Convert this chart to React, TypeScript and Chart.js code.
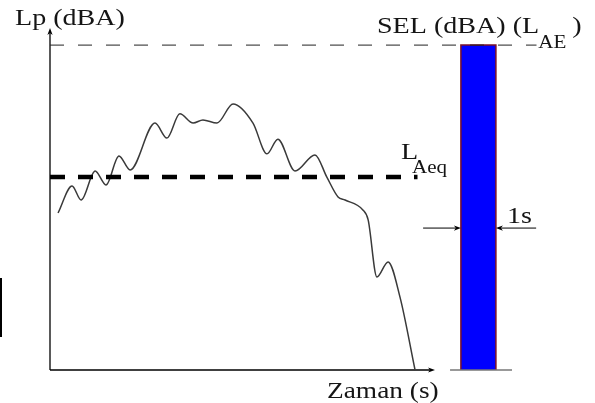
import React, { useEffect, useRef } from "react";
import { Chart, registerables } from "chart.js";

Chart.register(...registerables);

// Sound level time history (time in s, level in dBA)
const timeS = [0.23, 0.63, 0.89, 1.29, 1.6, 1.97, 2.29, 3.0, 3.34, 3.71, 4.09, 4.37, 4.77, 5.23, 5.8, 6.2, 6.51, 7.0, 7.57, 7.91, 8.23, 8.43, 8.94, 9.09, 9.34, 9.66, 10.0, 10.43];
const levelDBA = [45.9, 53.8, 49.7, 58.2, 54.1, 62.6, 58.5, 72.2, 67.8, 74.9, 72.2, 73.1, 72.2, 77.8, 72.2, 63.2, 67.5, 58.2, 62.9, 56.4, 50.6, 49.7, 46.8, 43.9, 27.2, 31.6, 21.3, 0];

const LAEQ = 56.4;
const LAEQ_END = 10.5;
const SEL = 95;
const SEL_LINE_END = 13.9;
const BAR_START = 11.74;
const BAR_DURATION = 1;
const X_AXIS_END = 11;
const Y_AXIS_TOP = 100;
const BASELINE_START = 11.43;
const BASELINE_END = 13.2;
const ARROW_LEVEL = 41.5;
const ARROW_LEFT_FROM = 10.66;
const ARROW_RIGHT_FROM = 13.89;

const SERIF = '"Liberation Serif", "DejaVu Serif", serif';

function arrowHead(ctx: CanvasRenderingContext2D, tx: number, ty: number, dir: string) {
  const L = 7, W = 2.6;
  ctx.beginPath();
  ctx.moveTo(tx, ty);
  if (dir === "right") { ctx.lineTo(tx - L, ty - W); ctx.lineTo(tx - L + 2, ty); ctx.lineTo(tx - L, ty + W); }
  if (dir === "left") { ctx.lineTo(tx + L, ty - W); ctx.lineTo(tx + L - 2, ty); ctx.lineTo(tx + L, ty + W); }
  if (dir === "up") { ctx.lineTo(tx - W, ty + L); ctx.lineTo(tx, ty + L - 2); ctx.lineTo(tx + W, ty + L); }
  ctx.closePath();
  ctx.fill();
}

function text(ctx: CanvasRenderingContext2D, s: string, x: number, y: number, size: number, sx = 1.17) {
  ctx.save();
  ctx.font = `${size}px ${SERIF}`;
  const w = ctx.measureText(s).width * sx;
  ctx.translate(x, y);
  ctx.scale(sx, 1);
  ctx.fillText(s, 0, 0);
  ctx.restore();
  return w;
}

const annotPlugin = {
  id: "annot",
  afterDatasetsDraw(chart: any) {
    const { ctx, scales } = chart;
    const px = (v: number) => scales.x.getPixelForValue(v);
    const py = (v: number) => scales.y.getPixelForValue(v);
    ctx.save();
    ctx.fillStyle = "#000";
    arrowHead(ctx, px(X_AXIS_END), py(0), "right");
    arrowHead(ctx, px(0), py(Y_AXIS_TOP), "up");
    arrowHead(ctx, px(BAR_START), py(ARROW_LEVEL), "right");
    arrowHead(ctx, px(BAR_START + BAR_DURATION), py(ARROW_LEVEL), "left");

    // stray mark at the left edge
    ctx.fillRect(0, 278, 2, 59);

    ctx.fillStyle = "#151515";
    ctx.textBaseline = "alphabetic";
    text(ctx, "Lp (dBA)", 15, 25, 24);
    const w1 = text(ctx, "SEL (dBA) (L", 377, 33, 24);
    const w2 = text(ctx, "AE", 377 + w1 - 1, 48, 18);
    text(ctx, ")", 377 + w1 + w2 + 5, 33, 24);
    text(ctx, "Zaman (s)", 327, 398, 24, 1.14);
    text(ctx, "L", 401, 159, 24);
    text(ctx, "Aeq", 412, 173, 18);
    text(ctx, "1", 507, 223, 24);
    text(ctx, "s", 521, 223, 24);
    ctx.restore();
  },
};

export default function App() {
  const ref = useRef<HTMLCanvasElement>(null);
  useEffect(() => {
    if (!ref.current) return;
    const curve = timeS.map((t, i) => ({ x: t, y: levelDBA[i] }));
    const chart = new Chart(ref.current, {
      type: "scatter",
      data: {
        datasets: [
          {
            data: [{ x: 0, y: SEL }, { x: SEL_LINE_END, y: SEL }],
            showLine: true, borderColor: "#222", borderWidth: 1, borderDash: [14, 14], clip: false,
          } as any,
          {
            data: [{ x: 0, y: LAEQ }, { x: LAEQ_END, y: LAEQ }],
            showLine: true, borderColor: "#000", borderWidth: 4.5, borderDash: [15, 13], clip: false,
          },
          {
            data: curve,
            showLine: true, borderColor: "#3a3a3a", borderWidth: 1.5, cubicInterpolationMode: "monotone", clip: false,
          },
          {
            data: [{ x: 0, y: 0 }, { x: X_AXIS_END - 0.1, y: 0 }],
            showLine: true, borderColor: "#000", borderWidth: 1.3, clip: false,
          },
          {
            data: [{ x: 0, y: 0 }, { x: 0, y: Y_AXIS_TOP - 1 }],
            showLine: true, borderColor: "#000", borderWidth: 1.3, clip: false,
          },
          {
            data: [{ x: BASELINE_START, y: 0 }, { x: BASELINE_END, y: 0 }],
            showLine: true, borderColor: "#777", borderWidth: 1.3, clip: false,
          },
          {
            data: [{ x: ARROW_LEFT_FROM, y: ARROW_LEVEL }, { x: BAR_START - 0.1, y: ARROW_LEVEL }],
            showLine: true, borderColor: "#000", borderWidth: 1, clip: false,
          },
          {
            data: [{ x: ARROW_RIGHT_FROM, y: ARROW_LEVEL }, { x: BAR_START + BAR_DURATION + 0.1, y: ARROW_LEVEL }],
            showLine: true, borderColor: "#000", borderWidth: 1, clip: false,
          },
          {
            data: [
              { x: BAR_START, y: 0 },
              { x: BAR_START, y: SEL },
              { x: BAR_START + BAR_DURATION, y: SEL },
              { x: BAR_START + BAR_DURATION, y: 0 },
            ],
            showLine: true, borderColor: "#7a1028", borderWidth: 1.5, backgroundColor: "#0000ff", fill: "origin", clip: false,
          },
        ],
      },
      options: {
        animation: false,
        responsive: false,
        events: [],
        layout: { padding: { left: 50, right: 55, top: 28, bottom: 33 } },
        elements: { point: { radius: 0 }, line: { tension: 0 } },
        scales: {
          x: { type: "linear", display: false, min: 0, max: 14 },
          y: { type: "linear", display: false, min: 0, max: 100 },
        },
        plugins: { legend: { display: false }, tooltip: { enabled: false } },
      },
      plugins: [annotPlugin],
    });
    return () => chart.destroy();
  }, []);
  return (
    <div style={{ position: "fixed", left: 0, top: 0, width: 595, height: 403, background: "#fff" }}>
      <canvas ref={ref} width={595} height={403} />
    </div>
  );
}
